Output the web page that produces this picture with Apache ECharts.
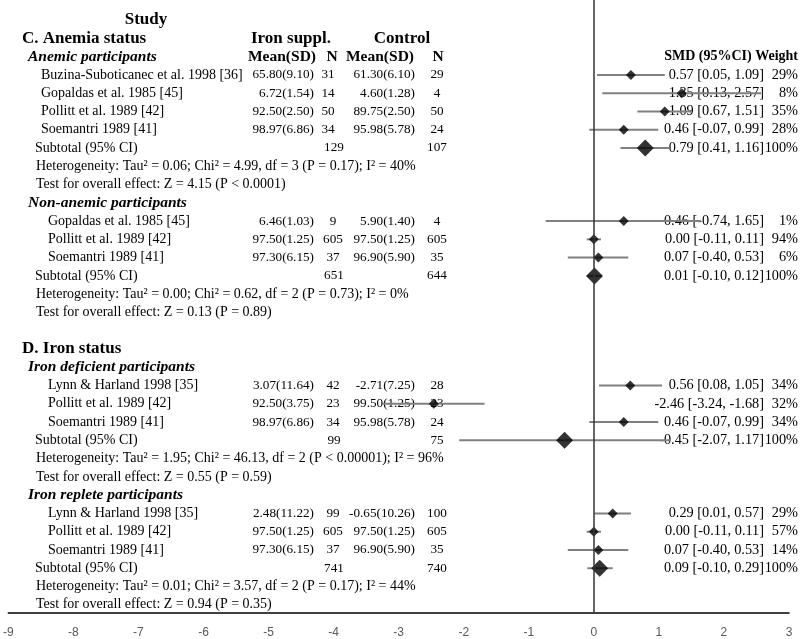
<!DOCTYPE html>
<html>
<head>
<meta charset="utf-8">
<script src="https://cdn.jsdelivr.net/npm/echarts@6/dist/echarts.min.js"></script>
<style>html,body{margin:0;padding:0;background:#fff}#main{width:800px;height:639px}</style>
</head>
<body>
<div id="main"></div>
<script>
// ---------- data ----------
const sections = ['C. Anemia status', 'D. Iron status'];
const groups = ['Anemic participants', 'Non-anemic participants', 'Iron deficient participants', 'Iron replete participants'];
const groupSection = [0, 0, 1, 1];
const groupSizes = [4, 3, 3, 3];

const studies = ['Buzina-Suboticanec et al. 1998 [36]', 'Gopaldas et al. 1985 [45]', 'Pollitt et al. 1989 [42]', 'Soemantri 1989 [41]',
  'Gopaldas et al. 1985 [45]', 'Pollitt et al. 1989 [42]', 'Soemantri 1989 [41]',
  'Lynn & Harland 1998 [35]', 'Pollitt et al. 1989 [42]', 'Soemantri 1989 [41]',
  'Lynn & Harland 1998 [35]', 'Pollitt et al. 1989 [42]', 'Soemantri 1989 [41]'];
const ironMeanSD = ['65.80(9.10)', '6.72(1.54)', '92.50(2.50)', '98.97(6.86)',
  '6.46(1.03)', '97.50(1.25)', '97.30(6.15)',
  '3.07(11.64)', '92.50(3.75)', '98.97(6.86)',
  '2.48(11.22)', '97.50(1.25)', '97.30(6.15)'];
const ironN = [31, 14, 50, 34, 9, 605, 37, 42, 23, 34, 99, 605, 37];
const ctrlMeanSD = ['61.30(6.10)', '4.60(1.28)', '89.75(2.50)', '95.98(5.78)',
  '5.90(1.40)', '97.50(1.25)', '96.90(5.90)',
  '-2.71(7.25)', '99.50(1.25)', '95.98(5.78)',
  '-0.65(10.26)', '97.50(1.25)', '96.90(5.90)'];
const ctrlN = [29, 4, 50, 24, 4, 605, 35, 28, 23, 24, 100, 605, 35];
const smd = [0.57, 1.35, 1.09, 0.46, 0.46, 0.00, 0.07, 0.56, -2.46, 0.46, 0.29, 0.00, 0.07];
const ciLow = [0.05, 0.13, 0.67, -0.07, -0.74, -0.11, -0.40, 0.08, -3.24, -0.07, 0.01, -0.11, -0.40];
const ciHigh = [1.09, 2.57, 1.51, 0.99, 1.65, 0.11, 0.53, 1.05, -1.68, 0.99, 0.57, 0.11, 0.53];
const weights = [29, 8, 35, 28, 1, 94, 6, 34, 32, 34, 29, 57, 14];

const subIronN = [129, 651, 99, 741];
const subCtrlN = [107, 644, 75, 740];
const subSmd = [0.79, 0.01, -0.45, 0.09];
const subLow = [0.41, -0.10, -2.07, -0.10];
const subHigh = [1.16, 0.12, 1.17, 0.29];
const subWeight = [100, 100, 100, 100];
const heterogeneity = [
  'Heterogeneity: Tau\u00b2 = 0.06; Chi\u00b2 = 4.99, df = 3 (P = 0.17); I\u00b2 = 40%',
  'Heterogeneity: Tau\u00b2 = 0.00; Chi\u00b2 = 0.62, df = 2 (P = 0.73); I\u00b2 = 0%',
  'Heterogeneity: Tau\u00b2 = 1.95; Chi\u00b2 = 46.13, df = 2 (P < 0.00001); I\u00b2 = 96%',
  'Heterogeneity: Tau\u00b2 = 0.01; Chi\u00b2 = 3.57, df = 2 (P = 0.17); I\u00b2 = 44%'];
const overallTests = [
  'Test for overall effect: Z = 4.15 (P < 0.0001)',
  'Test for overall effect: Z = 0.13 (P = 0.89)',
  'Test for overall effect: Z = 0.55 (P = 0.59)',
  'Test for overall effect: Z = 0.94 (P = 0.35)'];
const xTicks = [-9, -8, -7, -6, -5, -4, -3, -2, -1, 0, 1, 2, 3];

// ---------- layout / styles ----------
const SERIF = '"Liberation Serif", "Times New Roman", serif';
const F = {
  head: 'bold 17px ' + SERIF,
  sub: 'bold italic 15.5px ' + SERIF,
  col: 'bold 15.5px ' + SERIF,
  smdHead: 'bold 14px ' + SERIF,
  body: '14px ' + SERIF,
  num: '13.2px ' + SERIF,
  ci: '14.3px ' + SERIF
};
const fmt = v => v.toFixed(2);

const texts = [];   // {x,row,text,font,align}
const studyPts = [], studyCI = [], subPts = [], subCI = [];
function T(x, row, text, font, align) { texts.push({ x, row, text, font, align: align || 'left' }); }

T(146, 0, 'Study', F.head, 'center');
let row = 1, k = 0;
for (let g = 0; g < groups.length; g++) {
  if (g === 0 || groupSection[g] !== groupSection[g - 1]) {
    if (g > 0) row++;
    T(22, row, sections[groupSection[g]], F.head);
    if (g === 0) {
      T(291, row, 'Iron suppl.', F.head, 'center');
      T(402, row, 'Control', F.head, 'center');
    }
    row++;
  }
  T(28, row, groups[g], F.sub);
  if (g === 0) {
    T(282, row, 'Mean(SD)', F.col, 'center');
    T(332, row, 'N', F.col, 'center');
    T(380, row, 'Mean(SD)', F.col, 'center');
    T(438, row, 'N', F.col, 'center');
    T(798, row, 'SMD (95%CI) Weight', F.smdHead, 'right');
  }
  row++;
  for (let j = 0; j < groupSizes[g]; j++, k++, row++) {
    T(g === 0 ? 41 : 48, row, studies[k], F.body);
    T(314, row, ironMeanSD[k], F.num, 'right');
    T(g === 0 ? 328 : 333, row, String(ironN[k]), F.num, 'center');
    T(415, row, ctrlMeanSD[k], F.num, 'right');
    T(437, row, String(ctrlN[k]), F.num, 'center');
    T(764, row, fmt(smd[k]) + ' [' + fmt(ciLow[k]) + ', ' + fmt(ciHigh[k]) + ']', F.ci, 'right');
    T(798, row, weights[k] + '%', F.ci, 'right');
    studyPts.push([smd[k], row]);
    studyCI.push([ciLow[k], ciHigh[k], row]);
  }
  T(35, row, 'Subtotal (95% CI)', F.body);
  T(334, row, String(subIronN[g]), F.num, 'center');
  T(437, row, String(subCtrlN[g]), F.num, 'center');
  T(764, row, fmt(subSmd[g]) + ' [' + fmt(subLow[g]) + ', ' + fmt(subHigh[g]) + ']', F.ci, 'right');
  T(798, row, subWeight[g] + '%', F.ci, 'right');
  subPts.push([subSmd[g], row]);
  subCI.push([subLow[g], subHigh[g], row]);
  row++;
  T(36, row, heterogeneity[g], F.body); row++;
  T(36, row, overallTests[g], F.body); row++;
}

const Y_MIN = -1.1, Y_MAX = 32.45;

const chart = echarts.init(document.getElementById('main'), null, { renderer: 'canvas' });
chart.setOption({
  animation: false,
  backgroundColor: '#fff',
  grid: [
    { left: 7, right: 11, top: 0, bottom: 26 },
    { left: 0, right: 0, top: 0, bottom: 26 }
  ],
  xAxis: [
    {
      gridIndex: 0, type: 'value', min: xTicks[0], max: xTicks[xTicks.length - 1], interval: 1,
      axisLine: { show: true, onZero: false, lineStyle: { color: '#000', width: 1.5 } },
      axisTick: { show: false }, splitLine: { show: false },
      axisLabel: { color: '#595959', fontFamily: '"Liberation Sans", Arial, sans-serif', fontSize: 12, margin: 14 }
    },
    { gridIndex: 1, type: 'value', min: 0, max: 800, show: false }
  ],
  yAxis: [
    { gridIndex: 0, type: 'value', min: Y_MIN, max: Y_MAX, inverse: true, show: false },
    { gridIndex: 1, type: 'value', min: Y_MIN, max: Y_MAX, inverse: true, show: false }
  ],
  series: [
    {
      type: 'custom', xAxisIndex: 1, yAxisIndex: 1, z: 1, silent: true,
      data: texts.map(t => [t.x, t.row]),
      renderItem: function (params, api) {
        const t = texts[params.dataIndex];
        const p = api.coord([api.value(0), api.value(1)]);
        return { type: 'text', x: p[0], y: p[1],
          style: { text: t.text, font: t.font, fill: '#000', align: t.align, verticalAlign: 'middle' } };
      }
    },
    {
      type: 'custom', xAxisIndex: 0, yAxisIndex: 0, z: 3, silent: true,
      data: studyCI.concat(subCI),
      renderItem: function (params, api) {
        const a = api.coord([api.value(0), api.value(2)]);
        const b = api.coord([api.value(1), api.value(2)]);
        return { type: 'line', shape: { x1: a[0], y1: a[1], x2: b[0], y2: b[1] },
          style: { stroke: '#808080', lineWidth: 2 } };
      }
    },
    {
      type: 'scatter', xAxisIndex: 0, yAxisIndex: 0, z: 4, symbol: 'diamond', symbolSize: [10, 10],
      itemStyle: { color: '#000' }, data: studyPts,
      markLine: {
        silent: true, symbol: 'none', label: { show: false },
        lineStyle: { color: '#333', width: 1.5, type: 'solid' },
        data: [{ xAxis: 0 }]
      }
    },
    {
      type: 'scatter', xAxisIndex: 0, yAxisIndex: 0, z: 4, symbol: 'diamond', symbolSize: [17, 17],
      itemStyle: { color: '#000' }, data: subPts
    }
  ]
});
</script>
</body>
</html>
